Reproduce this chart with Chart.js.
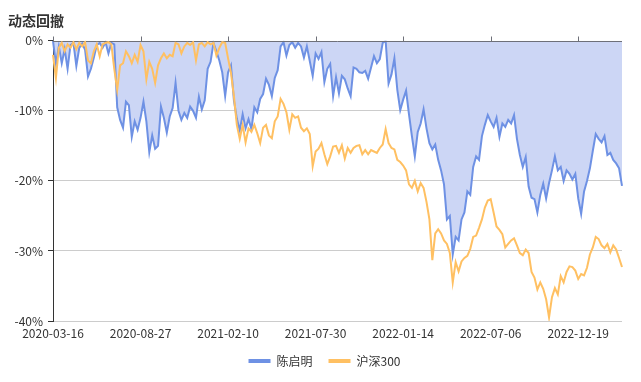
<!DOCTYPE html>
<html><head><meta charset="utf-8">
<script src="https://cdn.jsdelivr.net/npm/chart.js@4.4.0/dist/chart.umd.min.js"></script>
<style>html,body{margin:0;padding:0;background:#fff}#wrap{width:641px;height:382px;position:relative}</style>
</head><body><div id="wrap"><canvas id="c" width="641" height="382"></canvas></div>
<script>
const chartTitle = '动态回撤';
const seriesNames = ['陈启明', '沪深300'];
const tickDates = ['2020-03-16', '2020-08-27', '2021-02-10', '2021-07-30', '2022-01-14', '2022-07-06', '2022-12-19'];
const tickEvery = 30;
// drawdown (%) of 陈启明
const fundDrawdown = [
  0,-3.3,-0.8,-3.2,-1.2,-4.0,-0.6,-0.3,-3.6,-1.0,
  -0.4,-1.3,-5.1,-4.0,-2.4,-0.6,-0.3,-1.0,-0.2,-1.8,
  -0.3,-0.5,-9.5,-11.3,-12.4,-8.7,-9.2,-13.7,-11.5,-12.7,
  -11.0,-8.7,-11.5,-15.9,-13.5,-15.4,-15.0,-9.4,-11.0,-13.1,
  -10.8,-9.6,-6.0,-10.0,-11.3,-10.3,-11.0,-9.4,-10.0,-11.0,
  -8.0,-9.8,-8.5,-4.0,-3.0,-0.3,-1.5,-2.8,-4.5,-7.9,
  -4.5,-3.5,-8.5,-11.1,-12.8,-10.5,-12.5,-11.2,-12.6,-9.5,
  -10.2,-8.3,-7.6,-5.4,-6.3,-7.9,-5.3,-4.2,-0.8,-0.2,
  -2.1,-0.6,-0.2,-1.0,-0.3,-0.8,-2.4,-0.8,-2.9,-5.0,
  -1.8,-2.6,-1.6,-5.9,-4.0,-3.3,-7.9,-5.2,-7.5,-5.0,
  -5.5,-6.8,-7.9,-3.8,-4.0,-4.5,-4.6,-4.3,-5.4,-3.8,
  -2.2,-3.2,-2.6,-0.3,0,-6.1,-4.8,-2.5,-7.0,-9.9,
  -8.4,-7.1,-10.5,-13.6,-16.5,-13.0,-11.8,-9.8,-12.5,-14.6,
  -15.5,-14.8,-17.0,-18.5,-20.5,-25.5,-25.0,-30.5,-28.0,-28.5,
  -25.5,-24.5,-21.5,-22.0,-18.0,-16.5,-17.0,-13.6,-12.0,-10.6,
  -11.5,-12.3,-11.0,-13.7,-11.8,-12.3,-11.3,-11.8,-10.6,-14.0,
  -16.3,-18.0,-16.6,-20.8,-22.4,-22.6,-24.5,-22.0,-20.4,-22.5,
  -20.3,-18.5,-16.5,-18.5,-18.0,-20.0,-18.5,-19.0,-19.8,-19.0,
  -22.5,-24.7,-21.5,-20.0,-18.2,-15.7,-13.3,-14.0,-14.5,-13.6,
  -16.3,-16.0,-17.0,-17.5,-18.2,-20.7
];
// drawdown (%) of 沪深300
const hs300Drawdown = [
  -2.0,-5.3,-1.0,-0.3,-1.5,-0.5,-1.0,-0.2,-1.2,-0.3,
  -0.8,-0.2,-2.8,-3.2,-1.5,-0.5,-2.2,-0.5,-0.3,-0.2,
  -0.5,-4.0,-7.0,-3.5,-3.2,-1.5,-2.2,-3.2,-2.0,-3.0,
  -0.6,-1.5,-5.5,-3.0,-4.0,-6.0,-3.5,-2.5,-1.8,-2.5,
  -2.0,-2.2,-0.3,-0.5,-1.8,-0.8,-0.3,-0.6,-0.2,-2.8,
  -0.5,-0.3,-0.8,-0.2,-0.5,-0.3,-2.1,-1.0,-0.2,-0.3,
  -2.5,-4.6,-7.9,-12.0,-14.0,-12.0,-14.5,-12.5,-13.0,-12.0,
  -13.2,-14.6,-12.4,-12.0,-13.5,-13.9,-11.5,-10.8,-8.3,-9.0,
  -10.2,-12.7,-10.5,-11.0,-10.8,-12.4,-12.9,-12.5,-13.3,-17.9,
  -15.8,-15.4,-14.6,-16.2,-17.6,-16.5,-15.1,-15.0,-16.0,-14.9,
  -16.8,-15.3,-16.0,-15.3,-15.0,-14.9,-16.2,-15.6,-16.2,-15.6,
  -15.8,-16.0,-15.3,-14.8,-12.6,-14.6,-15.3,-15.5,-17.0,-17.3,
  -17.8,-18.5,-20.5,-21.0,-20.0,-21.5,-20.3,-21.0,-23.0,-25.5,
  -31.3,-27.5,-26.9,-27.5,-28.5,-29.0,-30.3,-34.5,-31.6,-32.9,
  -31.5,-31.0,-30.7,-29.7,-28.0,-27.8,-26.7,-25.5,-23.8,-22.8,
  -22.6,-24.5,-26.5,-27.0,-27.6,-29.5,-29.0,-28.5,-28.2,-29.2,
  -30.3,-30.6,-29.8,-30.3,-33.0,-33.8,-35.5,-34.5,-35.4,-36.9,
  -39.5,-36.6,-35.3,-36.2,-33.6,-34.5,-33.0,-32.2,-32.3,-32.8,
  -34.0,-33.3,-33.5,-32.4,-30.5,-29.5,-28.0,-28.3,-29.2,-29.6,
  -29.0,-30.2,-29.2,-29.8,-31.0,-32.3
];
const yMin = -40, yMax = 0, yStep = 10;

const labels = fundDrawdown.map((_, i) => i % tickEvery === 0 ? (tickDates[i / tickEvery] || '') : '');
const FONT = '"Noto Sans CJK SC", "Noto Sans", sans-serif';
const BLUE = 'rgb(110,145,228)';
const BLUE_FILL = 'rgb(204,214,245)';
const ORANGE = 'rgb(255,192,98)';

const zeroAxis = {
  id: 'zeroAxis',
  beforeDatasetDraw(chart, args) {
    if (args.index !== 1) return;
    const {ctx, chartArea, scales: {x, y}} = chart;
    const y0 = Math.round(y.getPixelForValue(0)) + 0.5;
    ctx.save();
    ctx.strokeStyle = '#6E7079';
    ctx.lineWidth = 1;
    ctx.beginPath();
    ctx.moveTo(chartArea.left, y0);
    ctx.lineTo(chartArea.right, y0);
    for (let i = 0; i < labels.length; i += tickEvery) {
      const px = Math.round(x.getPixelForValue(i)) + 0.5;
      ctx.moveTo(px, y0);
      ctx.lineTo(px, y0 - 5);
    }
    ctx.stroke();
    ctx.restore();
  }
};

new Chart(document.getElementById('c'), {
  type: 'line',
  data: {
    labels,
    datasets: [
      { label: seriesNames[0], data: fundDrawdown, borderColor: BLUE, backgroundColor: BLUE_FILL,
        fill: 'origin', borderWidth: 2, pointRadius: 0, tension: 0, order: 1 },
      { label: seriesNames[1], data: hs300Drawdown, borderColor: ORANGE, backgroundColor: ORANGE,
        fill: false, borderWidth: 2, pointRadius: 0, tension: 0, order: 0 }
    ]
  },
  options: {
    responsive: false,
    animation: false,
    layout: { padding: { left: 8, right: 0, top: 0, bottom: 5 } },
    plugins: {
      title: { display: true, text: chartTitle, align: 'start', color: '#333',
        font: { family: FONT, size: 14, weight: 'bold' }, padding: { top: 12, bottom: 12 } },
      legend: {
        position: 'bottom',
        labels: {
          usePointStyle: true, pointStyleWidth: 22, boxHeight: 12, padding: 16, color: '#333',
          font: { family: FONT, size: 12, lineHeight: 1 },
          generateLabels(chart) {
            return chart.data.datasets.map((ds, i) => ({
              text: ds.label, fillStyle: ds.borderColor, strokeStyle: ds.borderColor,
              lineWidth: 4, pointStyle: 'line', hidden: false, datasetIndex: i, fontColor: '#333'
            }));
          }
        }
      },
      tooltip: { enabled: false }
    },
    scales: {
      x: {
        type: 'category',
        afterFit(s) { s.height = 18; },
        grid: { display: false, drawTicks: false },
        border: { display: false },
        ticks: { autoSkip: false, maxRotation: 0, minRotation: 0, color: '#333', padding: 6,
          font: { family: FONT, size: 12, lineHeight: 1 } }
      },
      y: {
        min: yMin, max: yMax,
        afterFit(s) { s.width = 45; },
        grid: { color: (c) => c.tick && c.tick.value === 0 ? 'rgba(0,0,0,0)' : '#ccc', tickColor: '#333', tickLength: 5 },
        border: { display: true, color: '#333' },
        ticks: { stepSize: yStep, color: '#333', padding: 5, font: { family: FONT, size: 12 },
          callback: (v) => v + '%' }
      },
      yR: {
        position: 'right', display: true,
        afterFit(s) { s.width = 19; },
        grid: { display: false, drawTicks: false },
        border: { display: false },
        ticks: { display: false }
      }
    }
  },
  plugins: [zeroAxis]
});
</script>
</body></html>
